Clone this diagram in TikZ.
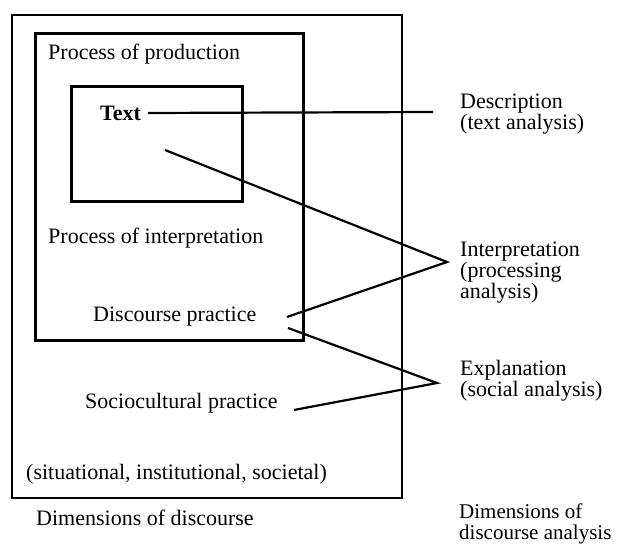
\documentclass[tikz,border=0pt]{standalone}
\usepackage{fontspec}
\setmainfont{Liberation Serif}
\begin{document}
\begin{tikzpicture}[x=1bp,y=-1bp,
  lbl/.style={anchor=west,inner sep=0pt,font=\fontsize{22bp}{19.5bp}\selectfont,align=left},
  boxline/.style={draw=black,line width=2.6bp},
  conn/.style={draw=black,line width=2.2bp,line join=miter}]
\useasboundingbox[fill=white] (0,0) rectangle (618,545);
% boxes
\draw[boxline] (12,15) rectangle (402,498);
\draw[boxline,line width=3bp] (35,34) rectangle (303,340);
\draw[boxline,line width=3bp] (71,87) rectangle (242,202);
% labels
\node[lbl] (prod) at (48,54) {Process of production};
\node[lbl,font=\fontsize{22bp}{19.5bp}\selectfont\bfseries] (txt) at (100,113) {Text};
\node[lbl] (interp) at (48,238) {Process of interpretation};
\node[lbl] (dp) at (93,317) {Discourse practice};
\node[lbl] (sp) at (85,403) {Sociocultural practice};
\node[lbl] (sit) at (26,474) {(situational, institutional, societal)};
\node[lbl] (dod) at (36,518) {Dimensions of discourse};
\node[lbl] (desc) at (460,114) {Description\\(text analysis)};
\node[lbl] (interpA) at (460,273) {Interpretation\\(processing\\analysis)};
\node[lbl] (expl) at (460,381) {Explanation\\(social analysis)};
\node[lbl,font=\fontsize{21bp}{21bp}\selectfont] (doda) at (459,524) {Dimensions of\\discourse analysis};
% connector end points
\coordinate (t1) at (148,113);
\coordinate (d1) at (433,112);
\coordinate (t2) at (165,150);
\coordinate (a2) at (447,262);
\coordinate (dp1) at (287,317);
\coordinate (dp2) at (288,328);
\coordinate (a3) at (437,383);
\coordinate (sp1) at (294,410);
% connectors
\draw[conn] (t1) -- (d1);
\draw[conn] (t2) -- (a2) -- (dp1);
\draw[conn] (dp2) -- (a3) -- (sp1);
\end{tikzpicture}
\end{document}
